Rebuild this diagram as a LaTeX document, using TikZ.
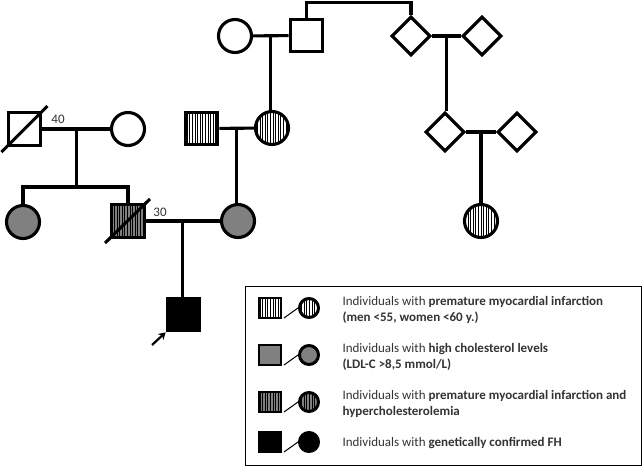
\documentclass[tikz,border=0pt]{standalone}
\usepackage{fontspec}
\setmainfont{Carlito}
\usetikzlibrary{arrows.meta,calc,shapes.geometric,patterns.meta}

\begin{document}
\begin{tikzpicture}[x=1pt,y=-1pt,line width=3.1pt,
    male/.style={draw,rectangle,minimum size=32.5pt,inner sep=0pt},
    female/.style={draw,circle,minimum size=33pt,inner sep=0pt},
    unk/.style={draw,diamond,minimum size=39pt,inner sep=0pt},
    pmi/.style={pattern={Lines[angle=90,distance=2.6pt,line width=0.8pt]}},
    hc/.style={fill=gray},
    both/.style={fill=gray,postaction={pmi}},
    fh/.style={fill=black},
    lmale/.style={draw,rectangle,minimum width=22pt,minimum height=20pt,inner sep=0pt,line width=2pt},
    lfemale/.style={draw,circle,minimum size=19pt,inner sep=0pt,line width=3pt},
    legtext/.style={anchor=west,align=left,inner sep=0pt,text=black!80,
      font=\fontsize{13}{16}\selectfont},
    age/.style={inner sep=0pt,text=black!80,font=\fontsize{13}{15}\selectfont}]
    \useasboundingbox (0,0) rectangle (643,466);

    % great grandparents
    \node[female] (ggm) at (235,36) {};
    \node[male] (ggf) at (306.5,35.5) {};
    \node[unk] (ud1) at (411,36) {};
    \node[unk] (ud2) at (482,36) {};
    \node[unk] (ud3) at (445,132) {};
    \node[unk] (ud4) at (517,132) {};
    \node[female,pmi] (cous) at (481,221) {};

    % grandparents
    \node[male] (gf) at (24.5,129) {};
    \node[female] (gm) at (128,129) {};
    \node[male,pmi] (gf2) at (201.5,128.5) {};
    \node[female,pmi] (gm2) at (272,128) {};
    \node[age] (gfage) at (58,119) {40};

    % parents
    \node[female,hc] (aunt) at (23,222) {};
    \node[male,both] (fath) at (128,221) {};
    \node[female,hc] (moth) at (238,221) {};
    \node[age] (fathage) at (160,212) {30};
    \node[male,fh] (prob) at (183.5,314.5) {};
    \coordinate (arr) at (152,345);

    % deceased
    \draw (gf.center) ++(-23,23) -- ++(46,-46);
    \draw (fath.center) ++(-23,22) -- ++(45,-44);

    % couples and offspring
    \draw (ggm) -- (ggf);
    \coordinate (m1) at ($(ggm.east)!0.5!(ggf.west)$);
    \draw (m1) -- (m1 |- gm2.north);
    \draw (ggf.north) -- ++(0,-15) -| (ud1.north);
    \draw (ud1) -- (ud2);
    \coordinate (m2) at ($(ud1.east)!0.5!(ud2.west)$);
    \draw (m2) -- (m2 |- ud3.north);
    \draw (ud3) -- (ud4);
    \coordinate (m3) at ($(ud3.east)!0.5!(ud4.west)$);
    \draw (m3) -- (m3 |- cous.north);

    \draw (gf) -- (gm);
    \coordinate (m4) at ($(gf.east)!0.5!(gm.west)$);
    \draw (m4) -- ++(0,58) coordinate (sib);
    \draw (aunt.north) |- (sib) -| (fath.north);
    \draw (gf2) -- (gm2);
    \coordinate (m5) at ($(gf2.east)!0.5!(gm2.west)$);
    \draw (m5) -- (m5 |- moth.north);

    \draw (fath) -- (moth);
    \coordinate (m6) at ($(fath.east)!0.5!(moth.west)$);
    \draw (m6) -- (m6 |- prob.north);
    \draw[-{Stealth[length=7pt,width=8pt]},line width=2.2pt] (arr) -- (prob.south west);

    % legend
    \node[draw,line width=1.2pt,minimum width=396pt,minimum height=179pt,
      inner sep=0pt,anchor=north west] (legend) at (244.5,285.5) {};
    \node[lmale,pmi] (ls1) at (270,308) {};
    \node[lfemale,pmi] (lc1) at (309,308) {};
    \node[lmale,hc] (ls2) at (270,355) {};
    \node[lfemale,hc] (lc2) at (309,355) {};
    \node[lmale,both] (ls3) at (270,402) {};
    \node[lfemale,both] (lc3) at (309,402) {};
    \node[lmale,fh] (ls4) at (270,442) {};
    \node[lfemale,fh] (lc4) at (309,442) {};
    \draw[line width=1pt] (ls1.south east) ++(2,-1) -- (lc1.west);
    \draw[line width=1pt] (ls2.south east) ++(2,-1) -- (lc2.west);
    \draw[line width=1pt] (ls3.south east) ++(2,-1) -- (lc3.west);
    \draw[line width=1pt] (ls4.south east) ++(2,-1) -- (lc4.west);
    \node[legtext] (lt1) at (341,310) {Individuals with \textbf{premature myocardial infarction}\\\textbf{(men <55, women <60 y.)}};
    \node[legtext] (lt2) at (341,357) {Individuals with \textbf{high cholesterol levels}\\\textbf{(LDL-C >8,5 mmol/L)}};
    \node[legtext] (lt3) at (341,403.5) {Individuals with \textbf{premature myocardial infarction and}\\\textbf{hypercholesterolemia}};
    \node[legtext] (lt4) at (341,443) {Individuals with \textbf{genetically confirmed FH}};
  \end{tikzpicture}
\end{document}
